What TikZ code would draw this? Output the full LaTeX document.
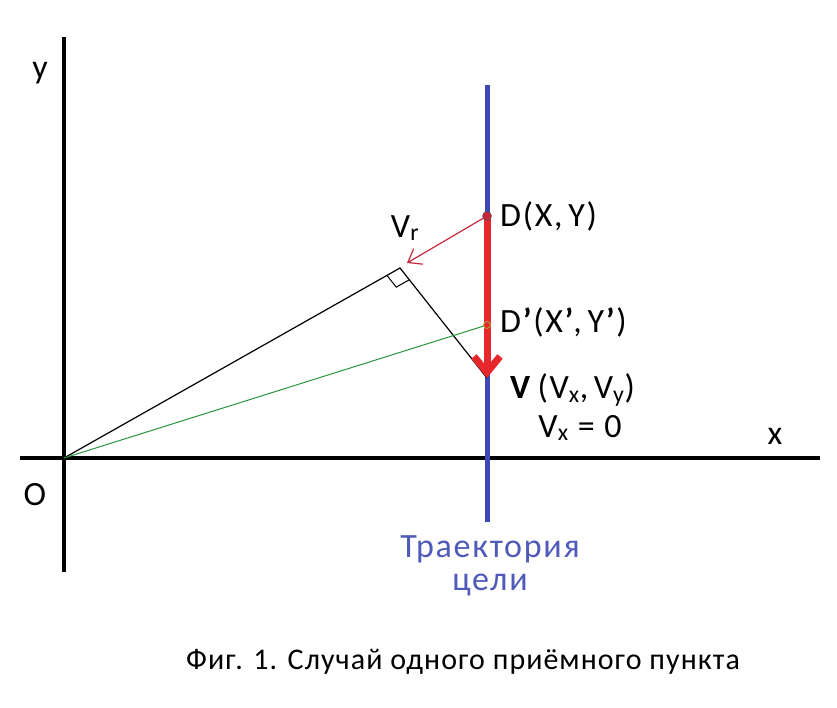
\documentclass[tikz,border=0pt]{standalone}
\usepackage{fontspec}
\setmainfont{Carlito}[LetterSpace=5]
\newfontfamily\capfont{Carlito}[LetterSpace=3.5]
\usetikzlibrary{arrows.meta,calc}
\definecolor{trajblue}{RGB}{62,72,180}
\definecolor{txtblue}{RGB}{80,90,185}
\definecolor{vred}{RGB}{230,40,45}
\definecolor{vrred}{RGB}{200,40,60}
\definecolor{grn}{RGB}{40,150,60}
\tikzset{
  axis/.style={line width=4pt,black},
  lbl/.style={inner sep=0pt,font=\fontsize{34}{38}\selectfont},
  pt/.style={circle,inner sep=0pt,minimum size=8pt,draw},
}
\newcommand{\bprime}{\textbf{’}}
\begin{document}
\begin{tikzpicture}[x=1pt,y=-1pt]
\useasboundingbox[fill=white] (0,0) rectangle (837,707);
% axes
\coordinate (ytop) at (64,37);
\coordinate (ybot) at (64,572);
\coordinate (xl) at (20,458);
\coordinate (xr) at (820,458);
\draw[axis] (ytop) -- (ybot);
\draw[axis] (xl) -- (xr);
\coordinate (O) at (64,458);
\node[lbl] (ylab) at (40,73) {y};
\node[lbl] (xlab) at (775,436) {x};
\node[lbl] (Olab) at (35,495) {O};
% trajectory
\coordinate (ttop) at (487,85);
\coordinate (tbot) at (487,522);
\draw[line width=5pt,trajblue] (ttop) -- (tbot);
% points
\coordinate (D) at (487,216);
\coordinate (Dp) at (487,325);
\coordinate (Vt) at (487,378);
\coordinate (F) at (400,268);
\coordinate (Vr) at (407,263);
% lines
\draw[line width=1.2pt,black] (O) -- (F) -- (Vt);
\draw[line width=1pt,grn] (O) -- (Dp);
% right angle mark
\coordinate (RA) at ($(F)!15pt!(O)$);
\coordinate (RB) at ($(F)!15pt!(Vt)$);
\coordinate (RC) at ($(RA)+(RB)-(F)$);
\draw[line width=1pt,black] (RA) -- (RC) -- (RB);
\draw[line width=1.2pt,vrred,-{Straight Barb[length=12pt,width=18pt]}] (D) -- (Vr);
\draw[line width=7pt,vred,-{Straight Barb[length=16pt,width=26pt,line width=7pt]}] (D) -- (Vt);
\node[pt,draw=black!70,fill=vrred,minimum size=9pt] (Dn) at (D) {};
\node[pt,draw=olive!70,fill=none,minimum size=7pt,line width=0.8pt] (Dpn) at (Dp) {};
% labels
\node[lbl,anchor=west] (Dlab) at (500,216) {D(X,\,Y)};
\node[lbl,anchor=west] (Dplab) at (500,322) {D\bprime(X\bprime,\,Y\bprime)};
\node[lbl] (Vrlab) at (405,228) {V\textsubscript{r}};
\node[lbl,anchor=west] (Vlab) at (510,390) {\textbf{V}\,(V\textsubscript{x},\,V\textsubscript{y})};
\node[lbl] (Vxlab) at (580,428) {V\textsubscript{x} = 0};
\node[lbl,text=txtblue,align=center,font=\fontsize{34}{33}\selectfont] (traj) at (490,566) {Траектория\\цели};
\node[lbl,font=\capfont\fontsize{30}{32}\selectfont] (cap) at (463,662) {Фиг. 1. Случай одного приёмного пункта};
\end{tikzpicture}
\end{document}
